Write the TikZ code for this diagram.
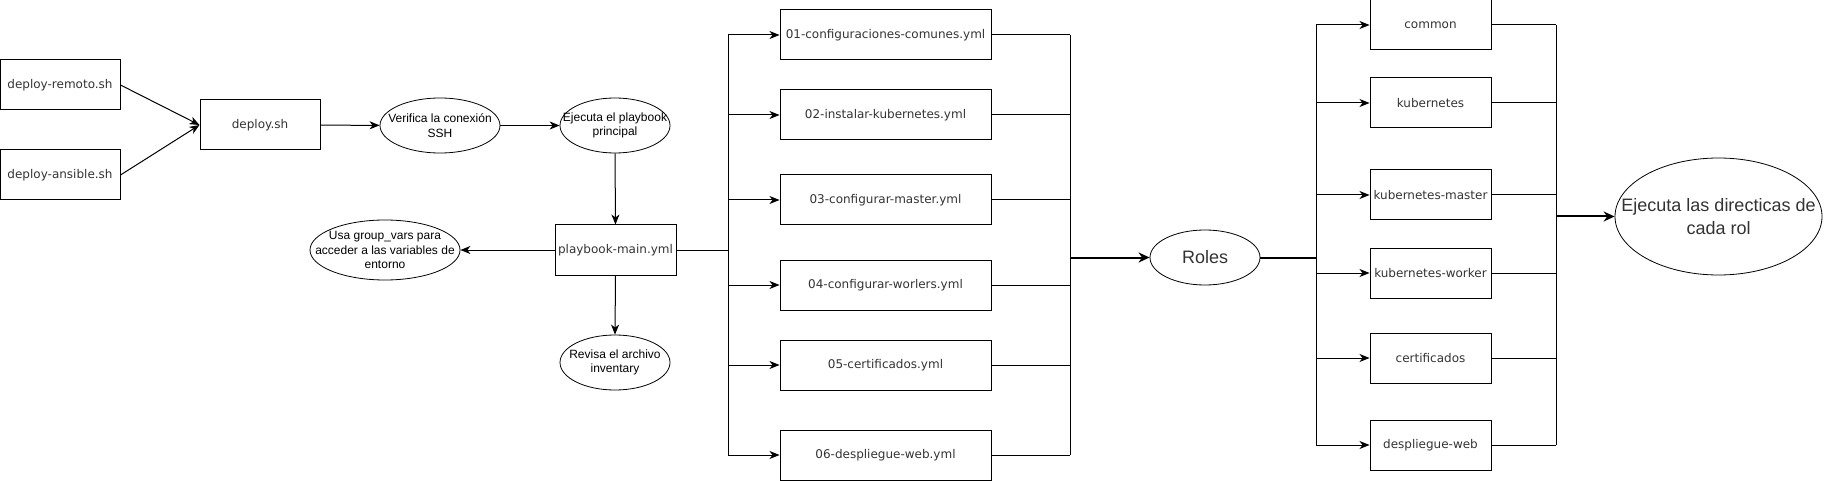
\documentclass[tikz,border=0pt]{standalone}
\usepackage{fontspec}
\setmainfont{DejaVu Sans}
\newfontfamily\arialf{Liberation Sans}
\usetikzlibrary{shapes.geometric,arrows.meta}
\definecolor{txt}{HTML}{333333}
\tikzset{
  box/.style={draw, line width=1pt, minimum height=50pt, inner sep=0pt, text=txt, font=\fontsize{12}{14}\selectfont},
  ell/.style={draw, ellipse, line width=0.8pt, inner sep=0pt},
  etext/.style={align=center, font=\arialf\fontsize{12}{14.5}\selectfont},
  btext/.style={align=center, font=\arialf\fontsize{18}{23}\selectfont, text=txt},
  conn/.style={line width=1pt},
  arr/.style={line width=1pt, -{Stealth[length=10pt,width=8pt,inset=3pt]}},
  tarr/.style={line width=2pt, -{Stealth[length=11pt,width=10pt,inset=3.5pt]}},
  tconn/.style={line width=2pt}
}
\begin{document}
\begin{tikzpicture}[x=1pt,y=-1pt]
\useasboundingbox (0,0) rectangle (1831,481);
% left part
\node[box, minimum width=120pt] (rem) at (60,85) {deploy-remoto.sh};
\node[box, minimum width=120pt] (ans) at (60,175) {deploy-ansible.sh};
\node[box, minimum width=120pt] (dep) at (260,125) {deploy.sh};
\node[ell, minimum width=120pt, minimum height=55pt,
  label={[etext]center:Verifica la conexión\\SSH}] (ver) at (440,125.5) {};
\node[ell, minimum width=110pt, minimum height=55pt,
  label={[etext]center:Ejecuta el playbook\\principal}] (eje) at (615,125.5) {};
\node[box, minimum width=121pt] (pm) at (615.5,250) {playbook-main.yml};
\node[ell, minimum width=150pt, minimum height=60pt,
  label={[etext]center:Usa group\_vars para\\acceder a las variables de\\entorno}] (usa) at (385,250) {};
\node[ell, minimum width=110pt, minimum height=55pt,
  label={[etext]center:Revisa el archivo\\inventary}] (rev) at (615,362.5) {};
\draw[arr] (rem.east) -- (dep.west);
\draw[arr] (ans.east) -- (dep.west);
\draw[arr] (dep) -- (ver);
\draw[arr] (ver) -- (eje);
\draw[arr] (eje.south) -- (pm.north);
\draw[arr] (pm.west) -- (usa.east);
\draw[arr] (pm.south) -- (rev.north);
% playbooks
\node[box, minimum width=211pt] (y1) at (885.5,35) {01-configuraciones-comunes.yml};
\node[box, minimum width=211pt] (y2) at (885.5,115) {02-instalar-kubernetes.yml};
\node[box, minimum width=211pt] (y3) at (885.5,200) {03-configurar-master.yml};
\node[box, minimum width=211pt] (y4) at (885.5,285) {04-configurar-worlers.yml};
\node[box, minimum width=211pt] (y5) at (885.5,365) {05-certificados.yml};
\node[box, minimum width=211pt] (y6) at (885.5,455) {06-despliegue-web.yml};
\coordinate (bL) at (728,250);
\coordinate (bR) at (1070,257.5);
\draw[conn] (pm.east) -- (bL);
\draw[conn] (bL |- y1.west) -- (bL |- y6.west);
\foreach \n in {y1,y2,y3,y4,y5,y6}{
  \draw[arr] (bL |- \n.west) -- (\n.west);
  \draw[conn] (\n.east) -- (bR |- \n.east);
}
\draw[conn] (bR |- y1.east) -- (bR |- y6.east);
% roles
\node[ell, minimum width=110pt, minimum height=55pt,
  label={[btext]center:Roles}] (roles) at (1205,257.5) {};
\draw[tarr] (bR) -- (roles.west);
\coordinate (cL) at (1316,257.5);
\coordinate (cR) at (1556,216.5);
\draw[tconn] (roles.east) -- (cL);
\node[box, minimum width=121pt] (r1) at (1430.5,25) {common};
\node[box, minimum width=121pt] (r2) at (1430.5,103) {kubernetes};
\node[box, minimum width=121pt] (r3) at (1430.5,195) {kubernetes-master};
\node[box, minimum width=121pt] (r4) at (1430.5,273) {kubernetes-worker};
\node[box, minimum width=121pt] (r5) at (1430.5,358) {certificados};
\node[box, minimum width=121pt] (r6) at (1430.5,445) {despliegue-web};
\draw[conn] (cL |- r1.west) -- (cL |- r6.west);
\foreach \n in {r1,r2,r3,r4,r5,r6}{
  \draw[arr] (cL |- \n.west) -- (\n.west);
  \draw[conn] (\n.east) -- (cR |- \n.east);
}
\draw[conn] (cR |- r1.east) -- (cR |- r6.east);
\node[ell, minimum width=207pt, minimum height=117pt,
  label={[btext]center:Ejecuta las directicas de\\cada rol}] (fin) at (1718.5,216.5) {};
\draw[tarr] (cR) -- (fin.west);
\end{tikzpicture}
\end{document}
